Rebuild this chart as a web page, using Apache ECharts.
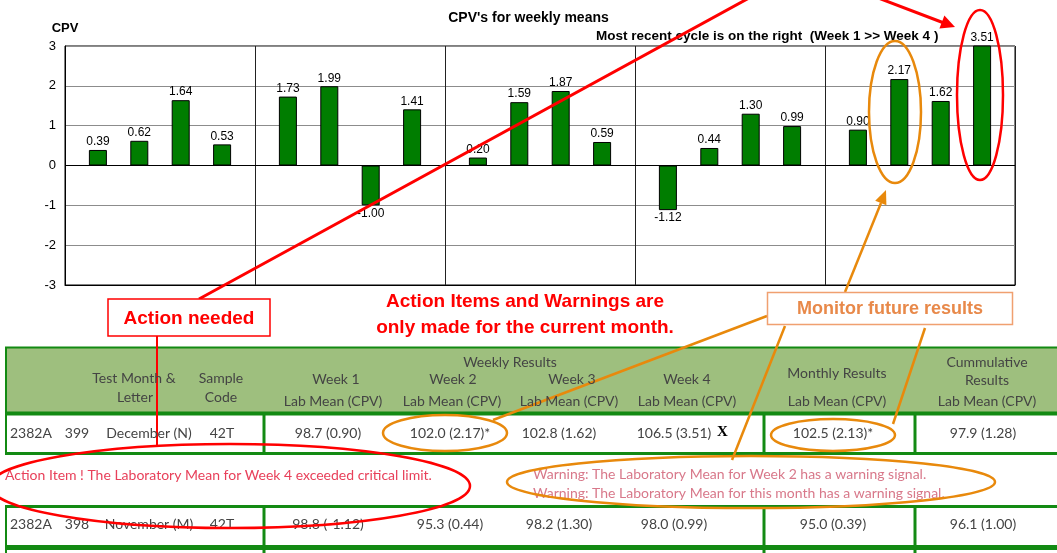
<!DOCTYPE html>
<html>
<head>
<meta charset="utf-8">
<script src="https://cdn.jsdelivr.net/npm/echarts@6/dist/echarts.min.js"></script>
<style>
  html, body { margin: 0; padding: 0; background: #fff; }
  #chart { width: 1057px; height: 553px; }
</style>
</head>
<body>
<div id="chart"></div>
<script>
// 月份（每组四周）
const months = ['August (J)', 'September (K)', 'October (L)', 'November (M)', 'December (N)'];
// 每周的 CPV
const week1 = [0.39, 1.73, 0.20, -1.12, 0.90];
const week2 = [0.62, 1.99, 1.59, 0.44, 2.17];
const week3 = [1.64, -1.00, 1.87, 1.30, 1.62];
const week4 = [0.53, 1.41, 0.59, 0.99, 3.51];
const weekNames = ['Week 1', 'Week 2', 'Week 3', 'Week 4'];

// 表格文字
const row1 = ['2382A', '399', 'December (N)', '42T', '98.7 (0.90)', '102.0 (2.17)*', '102.8 (1.62)', '106.5 (3.51)', '102.5 (2.13)*', '97.9 (1.28)'];
const row2 = ['2382A', '398', 'November (M)', '42T', '98.8 (-1.12)', '95.3 (0.44)', '98.2 (1.30)', '98.0 (0.99)', '95.0 (0.39)', '96.1 (1.00)'];
const actionNote = 'Action Item ! The Laboratory Mean for Week 4 exceeded critical limit.';
const warningNotes = [
    'Warning: The Laboratory Mean for Week 2 has a warning signal.',
    'Warning: The Laboratory Mean for this month has a warning signal.'
];

const myChart = echarts.init(document.getElementById('chart'));

const GREEN = '#138a13';
const RED = '#ff0000';
const ORANGE = '#e8890c';
const TFONT = '14px Lato';
const TCOLOR = '#444';

function barSeries(name, vals) {
    return {
        name: name,
        type: 'bar',
        barWidth: 18,
        barGap: '130%',
        itemStyle: {color: '#007d00', borderColor: '#000', borderWidth: 1},
        label: {
            show: true,
            formatter: p => p.value.toFixed(2),
            fontSize: 12,
            fontFamily: 'Liberation Sans',
            color: '#000',
            distance: 2
        },
        data: vals.map(v => ({value: v, label: {position: v < 0 ? 'bottom' : 'top'}}))
    };
}

function txt(x, y, text, opt) {
    opt = opt || {};
    return {
        type: 'text', x: x, y: y, z: opt.z || 50,
        style: {
            text: text,
            font: opt.font || TFONT,
            fill: opt.fill || TCOLOR,
            align: opt.align || 'center',
            textAlign: opt.align || 'center',
            verticalAlign: 'middle',
            textVerticalAlign: 'middle'
        }
    };
}
function line(x1, y1, x2, y2, color, w) {
    return {type: 'line', z: 40, shape: {x1, y1, x2, y2}, style: {stroke: color, lineWidth: w}};
}
function ellipse(cx, cy, rx, ry, color, w) {
    return {type: 'ellipse', z: 60, shape: {cx, cy, rx, ry}, style: {fill: null, stroke: color, lineWidth: w}};
}

const graphics = [];
// 表头
graphics.push({type: 'rect', z: 30, shape: {x: 5, y: 347, width: 1060, height: 66}, style: {fill: '#9ebf7e'}});
graphics.push(line(5, 347.5, 1057, 347.5, GREEN, 2));
graphics.push(line(5, 413.5, 1057, 413.5, GREEN, 4));
graphics.push(line(5, 453.5, 1057, 453.5, GREEN, 3));
graphics.push(line(5, 506.5, 1057, 506.5, GREEN, 3));
graphics.push(line(5, 547.5, 1057, 547.5, GREEN, 5));
graphics.push(line(6, 347, 6, 455, GREEN, 2));
graphics.push(line(6, 505, 6, 553, GREEN, 2));
[264, 764, 915].forEach(x => {
    graphics.push(line(x, 413, x, 455, GREEN, 3));
    graphics.push(line(x, 505, x, 553, GREEN, 3));
});
graphics.push(
    txt(134, 378, 'Test Month &'), txt(135, 397, 'Letter'),
    txt(221, 378, 'Sample'), txt(221, 397, 'Code'),
    txt(510, 362, 'Weekly Results'),
    txt(336, 379, weekNames[0]), txt(453, 379, weekNames[1]), txt(572, 379, weekNames[2]), txt(687, 379, weekNames[3]),
    txt(837, 373, 'Monthly Results'),
    txt(987, 362, 'Cummulative'), txt(987, 380, 'Results')
);
[333, 452, 569, 687, 837, 987].forEach(x => graphics.push(txt(x, 401, 'Lab Mean (CPV)')));

// 数据行
const colX = [77, 149, 222, 328, 450, 559, 674, 833, 983];
[[row1, 433], [row2, 524]].forEach(([row, y]) => {
    graphics.push(txt(10, y, row[0], {align: 'left'}));
    row.slice(1).forEach((s, i) => graphics.push(txt(colX[i], y, s)));
});
graphics.push(txt(717, 432, 'X', {align: 'left', font: 'bold 15px "Liberation Serif"', fill: '#000'}));

// 说明文字
graphics.push(txt(5, 475, actionNote, {align: 'left', fill: '#e8405a', font: '14px Lato'}));
graphics.push(txt(533, 474, warningNotes[0], {align: 'left', fill: '#d8788a', font: '14px Lato'}));
graphics.push(txt(533, 493, warningNotes[1], {align: 'left', fill: '#d8788a', font: '14px Lato'}));

// 标注
graphics.push({type: 'polyline', z: 70, shape: {points: [[199, 299], [802, -31], [944, 23]]}, style: {stroke: RED, lineWidth: 3, fill: null}});
graphics.push({type: 'polygon', z: 70, shape: {points: [[955, 27], [939.4, 28.5], [944.4, 15.5]]}, style: {fill: RED}});
graphics.push(line(157, 336, 157, 445, RED, 2));
graphics.push({type: 'rect', z: 75, shape: {x: 108, y: 299, width: 162, height: 37}, style: {fill: '#fff', stroke: RED, lineWidth: 1.5}});
graphics.push(txt(189, 319, 'Action needed', {fill: RED, font: 'bold 19px "Liberation Sans"', z: 80}));
graphics.push(txt(525, 302, 'Action Items and Warnings are', {fill: RED, font: 'bold 19px "Liberation Sans"', z: 80}));
graphics.push(txt(525, 328, 'only made for the current month.', {fill: RED, font: 'bold 19px "Liberation Sans"', z: 80}));
graphics.push(ellipse(980, 95, 23, 85, RED, 2.5));
graphics.push(ellipse(230, 486, 240, 42, RED, 2.5));

graphics.push(ellipse(895, 112, 26, 71, ORANGE, 2.5));
graphics.push(ellipse(445, 433, 62, 18, ORANGE, 2.5));
graphics.push(ellipse(833, 435, 62, 16, ORANGE, 2.5));
graphics.push(ellipse(751, 482, 244, 26, ORANGE, 2.5));
graphics.push(line(767, 316, 493, 420, ORANGE, 2.5));
graphics.push(line(785, 326, 732, 460, ORANGE, 2.5));
graphics.push(line(925, 328, 893, 424, ORANGE, 2.5));
graphics.push(line(845, 292, 881, 203, ORANGE, 2.5));
graphics.push({type: 'polygon', z: 70, shape: {points: [[886, 190], [886.4, 205.2], [875.2, 200.8]]}, style: {fill: ORANGE}});
graphics.push({type: 'rect', z: 75, shape: {x: 767.5, y: 292.5, width: 245, height: 32}, style: {fill: '#fff', stroke: '#f0a070', lineWidth: 1.5}});
graphics.push(txt(890, 309, 'Monitor future results', {fill: '#e8894a', font: 'bold 18px "Liberation Sans"', z: 80}));

const option = {
    animation: false,
    title: [
        {
            text: "CPV's for weekly means",
            left: 'center', top: 6,
            textStyle: {fontSize: 14, fontWeight: 'bold', fontFamily: 'Liberation Sans', color: '#000'}
        },
        {
            text: 'Most recent cycle is on the right  (Week 1 >> Week 4 )',
            left: 591, top: 24,
            textStyle: {fontSize: 13.5, fontWeight: 'bold', fontFamily: 'Liberation Sans', color: '#000'}
        }
    ],
    grid: {
        left: 65, top: 46, width: 950, height: 239,
        show: true, borderColor: '#000', borderWidth: 1,
        outerBoundsMode: 'none'
    },
    xAxis: {
        type: 'category',
        data: months,
        axisLine: {onZero: false, lineStyle: {color: '#000'}},
        axisTick: {show: false},
        axisLabel: {show: false},
        splitLine: {show: true, interval: 0, lineStyle: {color: '#222', width: 1}}
    },
    yAxis: {
        type: 'value',
        min: -3, max: 3, interval: 1,
        name: 'CPV',
        nameGap: 11,
        nameTextStyle: {fontSize: 13, fontWeight: 'bold', fontFamily: 'Liberation Sans', color: '#000'},
        axisLine: {show: true, lineStyle: {color: '#000'}},
        axisTick: {show: false},
        axisLabel: {fontSize: 13, fontFamily: 'Liberation Sans', color: '#000', margin: 9},
        splitLine: {lineStyle: {color: '#8c8c8c', width: 1}}
    },
    series: [
        barSeries(weekNames[0], week1),
        barSeries(weekNames[1], week2),
        barSeries(weekNames[2], week3),
        barSeries(weekNames[3], week4)
    ],
    graphic: graphics
};
option.series[0].markLine = {
    silent: true, symbol: 'none', label: {show: false},
    lineStyle: {color: '#000', width: 1, type: 'solid'},
    data: [{yAxis: 0}]
};

myChart.setOption(option);
</script>
</body>
</html>
